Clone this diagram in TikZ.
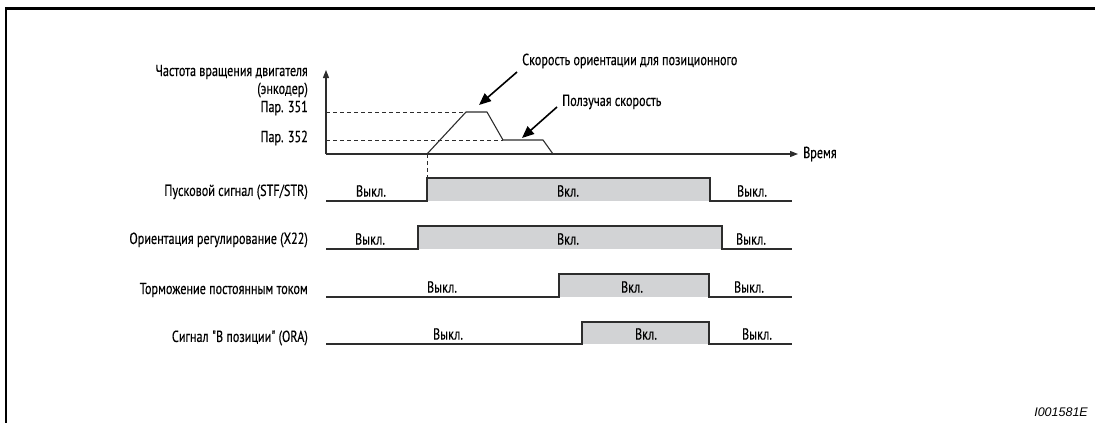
\documentclass[tikz,border=0pt]{standalone}
\usepackage{fontspec}
\setmainfont{PT Sans}[FakeStretch=0.76,FakeBold=0.3,Ligatures=TeXOff]
\newfontfamily\codefont{Liberation Sans}
\usetikzlibrary{arrows.meta,positioning}
\definecolor{siggray}{RGB}{210,211,213}
\definecolor{wireblack}{RGB}{45,45,45}

\begin{document}
\begin{tikzpicture}[x=1pt,y=-1pt,font=\fontsize{16}{18}\selectfont,
    wire/.style={draw=wireblack,line width=1.1pt},
    guide/.style={draw=wireblack,line width=0.8pt,dash pattern=on 4pt off 3pt},
    axisarrow/.style={wire,-{Triangle[length=8pt,width=6pt]}},
    callout/.style={draw=black,line width=1.6pt,-{Triangle[length=12pt,width=10pt]}},
    siglabel/.style={anchor=east,inner sep=0pt},
    statelbl/.style={inner sep=0pt}]
  \useasboundingbox (0,0) rectangle (1095,423);
  % frame
  \draw[line width=2.2pt] (1095,8.5) -- (6,8.5) -- (6,423);

  % speed axis
  \coordinate (O) at (326,154);
  \coordinate (ytop) at (326,70);
  \node[anchor=west,inner sep=0pt] (tlbl) at (803,154) {Время};
  \draw[axisarrow] (O) -- ([xshift=-5pt]tlbl.west);
  \draw[axisarrow] (O) -- (ytop);
  \node[siglabel] (yl1) at (308,72) {Частота вращения двигателя};
  \node[siglabel] (yl2) at (308,90) {(энкодер)};
  \node[siglabel] (p351) at (308,108) {Пар. 351};
  \node[siglabel] (p352) at (308,138) {Пар. 352};

  % speed profile
  \coordinate (s0) at (427,154);
  \coordinate (s1) at (466,112);
  \coordinate (s2) at (487,112);
  \coordinate (s3) at (503,140);
  \coordinate (s4) at (543,140);
  \coordinate (s5) at (553,154);
  \draw[guide] (O |- s1) -- (s1);
  \draw[guide] (O |- s3) -- (s3);
  \draw[guide] (s0) -- (427,178);
  \draw[wire,line join=round] (s0) -- (s1) -- (s2) -- (s3) -- (s4) -- (s5);

  % callouts
  \node[anchor=west,inner sep=0pt] (orient) at (522,61) {Скорость ориентации для позиционного};
  \node[anchor=west,inner sep=0pt] (creep) at (562,102) {Ползучая скорость};
  \coordinate (c1) at (517,72);
  \coordinate (c1e) at (479,105);
  \coordinate (c2) at (557,107);
  \coordinate (c2e) at (522,138);
  \draw[callout] (c1) -- (c1e);
  \draw[callout] (c2) -- (c2e);

  % signal names
  \node[siglabel] (stf) at (308,192) {Пусковой сигнал (STF/STR)};
  \node[siglabel] (x22) at (308,240) {Ориентация регулирование (X22)};
  \node[siglabel] (dcb) at (308,290) {Торможение постоянным током};
  \node[siglabel] (ora) at (308,338) {Сигнал "В позиции" (ORA)};

  % timing rows
  \foreach \lo/\hi/\up/\dn/\a/\b/\c [count=\i] in {
    201/178/427/710/371/568/752,
    249/226/418/722/370/568/751,
    297/274/559/709/442/632/749,
    344/322/582/709/448/646/757}{
    \fill[siggray] (\up,\lo) rectangle (\dn,\hi);
    \draw[wire] (326,\lo) -- (\up,\lo) -- (\up,\hi) -- (\dn,\hi) -- (\dn,\lo) -- (792,\lo);
    \node[statelbl] (offa\i) at (\a,\lo-10) {Выкл.};
    \node[statelbl] (on\i) at (\b,\lo-10) {Вкл.};
    \node[statelbl] (offb\i) at (\c,\lo-10) {Выкл.};
  }

  \node[anchor=east,inner sep=0pt] (figid) at (1088,412)
    {\codefont\itshape\fontsize{12.5}{14}\selectfont I001581E};
\end{tikzpicture}
\end{document}
